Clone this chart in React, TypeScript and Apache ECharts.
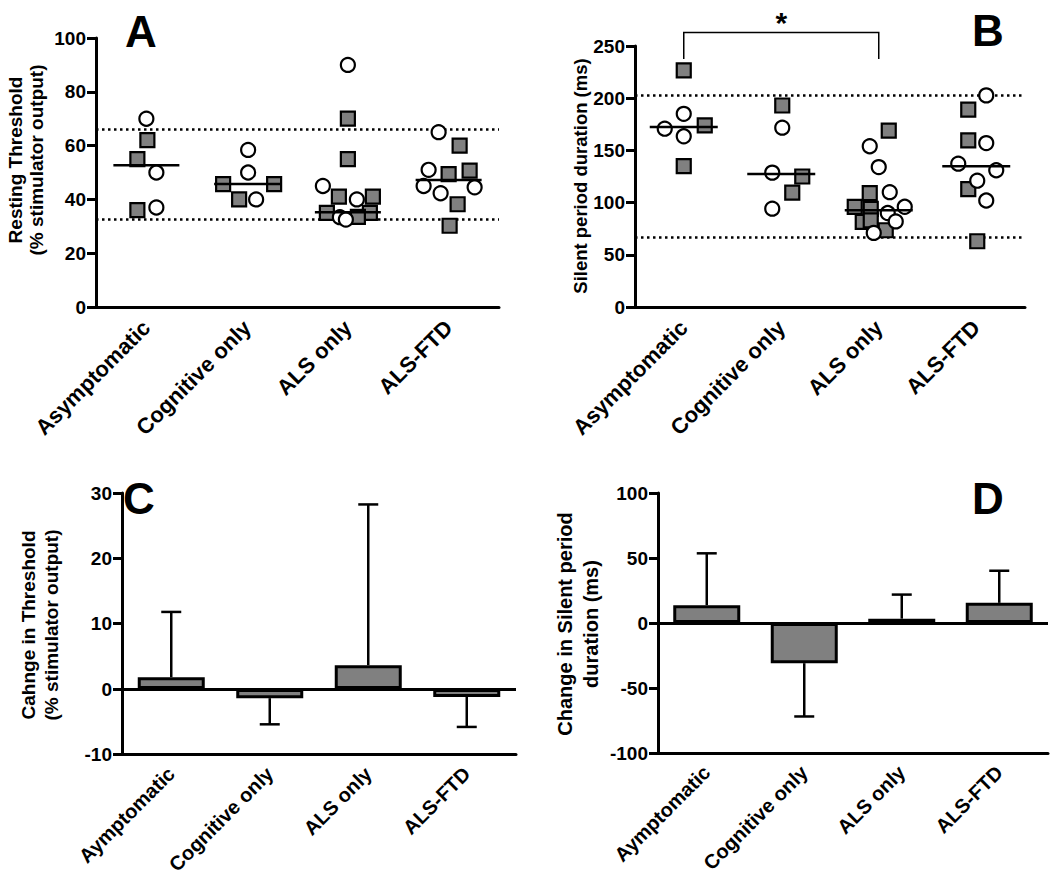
import React, { useEffect, useRef } from "react";
import * as echarts from "echarts";

// ---------- data ----------
const categories = ["Asymptomatic", "Cognitive only", "ALS only", "ALS-FTD"];
const categoriesBar = ["Aymptomatic", "Cognitive only", "ALS only", "ALS-FTD"];

// Panel A: resting threshold (% stimulator output)
const thresholdSquares = [
  [62, 55, 36],
  [45.7, 45.7, 40],
  [70, 55, 41, 41, 35, 35, 33.5],
  [60, 50.7, 49.4, 38.2, 30.2],
];
const thresholdCircles = [
  [70, 50, 37],
  [58.4, 50, 40],
  [90, 45, 40, 33.4, 32.5],
  [65, 51, 45, 44.5, 42.3],
];
const thresholdMedians = [52.7, 45.7, 35.2, 47.2];
const thresholdLimits = [66, 32.8];

// Panel B: silent period duration (ms)
const silentSquares = [
  [226.7, 174, 135],
  [193, 125, 109.5],
  [169, 109, 96, 94, 81.5, 83, 73.5],
  [189, 159.6, 113, 63],
];
const silentCircles = [
  [185, 170.8, 163.5],
  [171.8, 128.7, 94.2],
  [154, 134, 110, 96, 90, 82, 71],
  [202.7, 157, 137.3, 131, 121, 102],
];
const silentMedians = [172.4, 127.4, 92.6, 134.7];
const silentLimits = [202.4, 67];
const significancePair = [0, 2];

// Panel C: change in threshold (mean, SD)
const thresholdChangeMean = [1.8, -1.4, 3.65, -1.2];
const thresholdChangeSD = [10, 4, 24.6, 4.6];

// Panel D: change in silent period duration (mean, SD)
const silentChangeMean = [13.7, -30.9, 3.35, 15.5];
const silentChangeSD = [39.9, 41, 18.5, 24.7];

// ---------- horizontal jitter of the dots (pixels, layout only) ----------
const jitterThresholdSquares = [
  [1, -9, -9],
  [-24, 27, -8],
  [0, 0, -9, 25, -21, 22, 10],
  [11, 21, 0, 9, 1],
];
const jitterThresholdCircles = [
  [0, 10, 10],
  [1, 1, 9],
  [0, -25, 9, -8, -2],
  [-10, -20, -25, 26, -8],
];
const jitterSilentSquares = [
  [0, 21, 0],
  [1, 21, 11],
  [10, -9, -24, -8, -16, -8, 7],
  [-8, -8, -8, 1],
];
const jitterSilentCircles = [
  [0, -19, 0],
  [1, -9, -9],
  [-9, 0, 11, 26, 9, 17, -5],
  [10, 10, -18, 20, 1, 10],
];

const FONT = "Liberation Sans, Arial, sans-serif";
const GREY = "#808080";

function dots(values: number[][], jitter: number[][]) {
  const out: any[] = [];
  values.forEach((grp, i) =>
    grp.forEach((v, j) => out.push({ value: [i, v], symbolOffset: [jitter[i][j], 0] }))
  );
  return out;
}

function catAxis(gridIndex: number, data: string[], fontSize: number, margin: number) {
  return {
    type: "category",
    gridIndex,
    data,
    boundaryGap: true,
    axisLine: { onZero: false, lineStyle: { color: "#000", width: 3 } },
    axisTick: { alignWithLabel: true, length: 9, lineStyle: { color: "#000", width: 3 } },
    axisLabel: {
      rotate: 45,
      interval: 0,
      color: "#000",
      fontFamily: FONT,
      fontWeight: "bold",
      fontSize,
      margin,
    },
    splitLine: { show: false },
  };
}

function valAxis(gridIndex: number, min: number, max: number, interval: number) {
  return {
    type: "value",
    gridIndex,
    min,
    max,
    interval,
    axisLine: { show: true, lineStyle: { color: "#000", width: 3 } },
    axisTick: { show: true, length: 9, lineStyle: { color: "#000", width: 3 } },
    axisLabel: {
      color: "#000",
      fontFamily: FONT,
      fontWeight: "bold",
      fontSize: 19,
      margin: 10,
    },
    splitLine: { show: false },
  };
}

function scatterSeries(idx: number, values: number[][], jitter: number[][], square: boolean, limits?: number[]) {
  const s: any = {
    type: "scatter",
    xAxisIndex: idx,
    yAxisIndex: idx,
    symbol: square ? "rect" : "circle",
    symbolSize: 14,
    itemStyle: {
      color: square ? GREY : "#fff",
      borderColor: "#000",
      borderWidth: 2.2,
      opacity: 1,
    },
    data: dots(values, jitter),
    z: 3,
  };
  if (limits) {
    s.markLine = {
      silent: true,
      symbol: "none",
      label: { show: false },
      lineStyle: { type: [2.5, 3.5], color: "#000", width: 2.5 },
      data: limits.map((v) => ({ yAxis: v })),
      z: 1,
    };
  }
  return s;
}

function medianSeries(idx: number, medians: number[], half: number) {
  return {
    type: "custom",
    xAxisIndex: idx,
    yAxisIndex: idx,
    encode: { x: 0, y: 1 },
    z: 5,
    data: medians.map((m, i) => [i, m]),
    renderItem: (_p: any, api: any) => {
      const p = api.coord([api.value(0), api.value(1)]);
      return {
        type: "line",
        shape: { x1: p[0] - half, y1: p[1], x2: p[0] + half, y2: p[1] },
        style: { stroke: "#000", lineWidth: 2.5 },
      };
    },
  };
}

function barSeries(idx: number, means: number[]) {
  return {
    type: "bar",
    xAxisIndex: idx,
    yAxisIndex: idx,
    barWidth: 67,
    data: means,
    itemStyle: { color: GREY, borderColor: "#000", borderWidth: 3 },
    z: 3,
    markLine: {
      silent: true,
      symbol: "none",
      label: { show: false },
      lineStyle: { type: "solid", color: "#000", width: 3 },
      data: [{ yAxis: 0 }],
      z: 2,
    },
  };
}

function errorSeries(idx: number, means: number[], sds: number[]) {
  return {
    type: "custom",
    xAxisIndex: idx,
    yAxisIndex: idx,
    encode: { x: 0, y: 1 },
    z: 2,
    data: means.map((m, i) => [i, m, sds[i]]),
    renderItem: (_p: any, api: any) => {
      const i = api.value(0);
      const m = api.value(1);
      const sd = api.value(2);
      const end = m >= 0 ? m + sd : m - sd;
      const p0 = api.coord([i, m]);
      const p1 = api.coord([i, end]);
      return {
        type: "group",
        children: [
          {
            type: "line",
            shape: { x1: p0[0], y1: p0[1], x2: p1[0], y2: p1[1] },
            style: { stroke: "#000", lineWidth: 2.5 },
          },
          {
            type: "line",
            shape: { x1: p1[0] - 10, y1: p1[1], x2: p1[0] + 10, y2: p1[1] },
            style: { stroke: "#000", lineWidth: 2.5 },
          },
        ],
      };
    },
  };
}

function bracketSeries(idx: number, pair: number[], top: number, end: number) {
  return {
    type: "custom",
    xAxisIndex: idx,
    yAxisIndex: idx,
    clip: false,
    z: 6,
    data: [[pair[0], pair[1], top, end]],
    renderItem: (_p: any, api: any) => {
      const a = api.coord([api.value(0), api.value(2)]);
      const b = api.coord([api.value(1), api.value(2)]);
      const e = api.coord([api.value(0), api.value(3)]);
      return {
        type: "group",
        children: [
          {
            type: "polyline",
            shape: { points: [[a[0], e[1]], [a[0], a[1]], [b[0], b[1]], [b[0], e[1]]] },
            style: { stroke: "#000", lineWidth: 1.5, fill: "none" },
          },
          {
            type: "text",
            style: {
              text: "*",
              x: (a[0] + b[0]) / 2,
              y: a[1] - 10,
              align: "center",
              verticalAlign: "middle",
              font: "bold 30px " + FONT,
              fill: "#000",
            },
          },
        ],
      };
    },
  };
}

function title(x: number, y: number, text: string, size: number, lineHeight: number) {
  return {
    type: "text",
    x,
    y,
    rotation: Math.PI / 2,
    style: {
      text,
      align: "center",
      verticalAlign: "middle",
      fontFamily: FONT,
      fontWeight: "bold",
      fontSize: size,
      lineHeight,
      fill: "#000",
    },
  };
}

function letter(x: number, y: number, text: string) {
  return {
    type: "text",
    x,
    y,
    style: {
      text,
      align: "center",
      verticalAlign: "middle",
      fontFamily: FONT,
      fontWeight: "bold",
      fontSize: 44,
      fill: "#000",
    },
  };
}

export default function App() {
  const ref = useRef<HTMLDivElement>(null);
  useEffect(() => {
    if (!ref.current) return;
    const chart = echarts.init(ref.current, null, { renderer: "svg" });
    const option: any = {
      animation: false,
      backgroundColor: "#fff",
      grid: [
        { left: 96, top: 38, width: 403, height: 269 },
        { left: 635, top: 46, width: 390, height: 261 },
        { left: 122, top: 493, width: 394, height: 263 },
        { left: 658, top: 493, width: 390, height: 260 },
      ],
      xAxis: [
        catAxis(0, categories, 22, 17),
        catAxis(1, categories, 22, 17),
        catAxis(2, categoriesBar, 20, 16),
        catAxis(3, categoriesBar, 20, 16),
      ],
      yAxis: [
        valAxis(0, 0, 100, 20),
        valAxis(1, 0, 250, 50),
        valAxis(2, -10, 30, 10),
        valAxis(3, -100, 100, 50),
      ],
      series: [
        scatterSeries(0, thresholdSquares, jitterThresholdSquares, true, thresholdLimits),
        scatterSeries(0, thresholdCircles, jitterThresholdCircles, false),
        medianSeries(0, thresholdMedians, 33),
        scatterSeries(1, silentSquares, jitterSilentSquares, true, silentLimits),
        scatterSeries(1, silentCircles, jitterSilentCircles, false),
        medianSeries(1, silentMedians, 34),
        bracketSeries(1, significancePair, 263, 237.5),
        barSeries(2, thresholdChangeMean),
        errorSeries(2, thresholdChangeMean, thresholdChangeSD),
        barSeries(3, silentChangeMean),
        errorSeries(3, silentChangeMean, silentChangeSD),
      ],
      graphic: [
        title(26, 160, "Resting Threshold\n(% stimulator output)", 19, 21),
        title(580, 176, "Silent period duration (ms)", 18.5, 21),
        title(40, 625, "Cahnge in Threshold\n(% stimulator output)", 19, 23),
        title(578, 624, "Change in Silent period\nduration (ms)", 20, 26),
        letter(141, 31, "A"),
        letter(988, 30, "B"),
        letter(139, 498, "C"),
        letter(988, 498, "D"),
      ],
    };
    chart.setOption(option);
    return () => chart.dispose();
  }, []);
  return (
    <div
      ref={ref}
      style={{ position: "absolute", left: 0, top: 0, width: 1050, height: 877, background: "#fff" }}
    />
  );
}
